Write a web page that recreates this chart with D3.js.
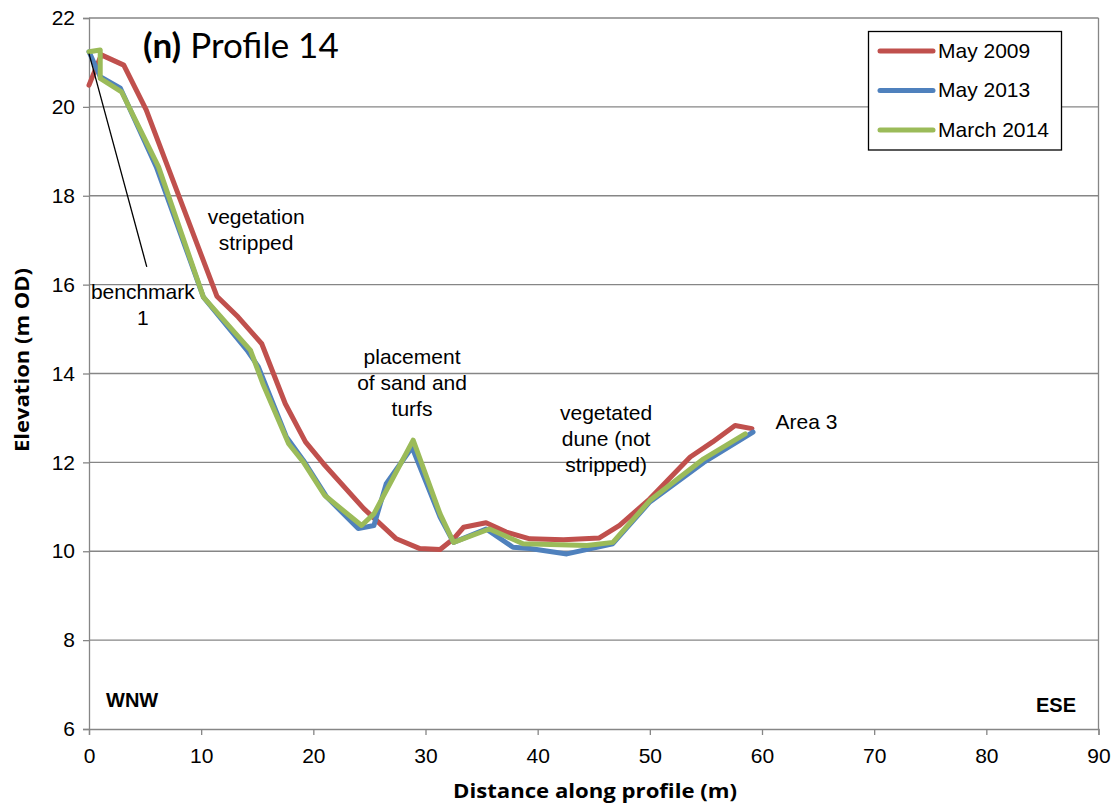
<!DOCTYPE html>
<html><head><meta charset="utf-8">
<script src="https://cdn.jsdelivr.net/npm/d3@7/dist/d3.min.js"></script>
<style>body{margin:0;background:#fff}svg{display:block}</style>
</head><body>
<svg id="c" width="1118" height="808"></svg>
<script>
const xTicks = [0,10,20,30,40,50,60,70,80,90];
const yTicks = [6,8,10,12,14,16,18,20,22];
const seriesNames = ["May 2009","May 2013","March 2014"];
const seriesColors = ["#C0504D","#4F81BD","#9BBB59"];

const may2009X = [0,1.1,3.1,5.1,11.4,13.3,15.4,17.5,19.3,20.9,24.5,27.4,29.5,31.3,32.5,33.4,35.4,37.2,39.3,42.3,45.5,47.3,50.0,53.6,55.6,57.6,59.1];
const may2009Y = [20.49,21.17,20.94,19.93,15.74,15.27,14.67,13.32,12.46,11.97,10.96,10.28,10.06,10.04,10.28,10.54,10.64,10.43,10.28,10.26,10.3,10.58,11.18,12.12,12.46,12.83,12.76];

const may2013X = [0,1.0,2.8,6.0,10.2,14.1,15.1,17.6,19.1,21.2,24.0,25.4,26.5,28.8,31.3,32.5,35.4,37.8,39.3,42.6,46.7,50.0,54.8,59.2];
const may2013Y = [21.24,20.68,20.42,18.65,15.72,14.52,14.15,12.57,12.05,11.22,10.51,10.58,11.52,12.34,10.77,10.2,10.5,10.09,10.06,9.94,10.17,11.11,12.0,12.68];

const march2014X = [0,1.0,1.0,2.9,6.2,10.2,14.4,15.5,17.8,19.1,21.0,24.3,25.4,28.9,31.3,32.5,35.7,38.7,44.4,46.7,50.0,54.8,58.5];
const march2014Y = [21.24,21.28,20.64,20.34,18.65,15.72,14.52,13.77,12.42,12.01,11.26,10.58,10.84,12.5,10.84,10.2,10.5,10.17,10.13,10.2,11.14,12.08,12.64];

const annotations = [
  {lines:["vegetation","stripped"], x:14.9, y:17.36},
  {lines:["benchmark","1"], x:4.8, y:15.68},
  {lines:["placement","of sand and","turfs"], x:28.8, y:14.21},
  {lines:["vegetated","dune (not","stripped)"], x:46.1, y:12.95}
];

const ARIAL = "Liberation Sans, Arial, sans-serif";
const svg = d3.select("#c");
const m = {l:89, r:1098.5, t:18, b:729};
const x = d3.scaleLinear().domain([0,90]).range([m.l,m.r]);
const y = d3.scaleLinear().domain([6,22]).range([m.b,m.t]);

// gridlines
svg.append("g").selectAll("line").data(yTicks.filter(d=>d>6)).join("line")
  .attr("x1",m.l).attr("x2",m.r).attr("y1",d=>y(d)).attr("y2",d=>y(d))
  .attr("stroke","#868686").attr("stroke-width",1.3);
// right border
svg.append("line").attr("x1",m.r).attr("x2",m.r).attr("y1",m.t).attr("y2",m.b)
  .attr("stroke","#868686").attr("stroke-width",1.3);

// axes
const yAxis = svg.append("g").attr("transform",`translate(${m.l},0)`)
  .call(d3.axisLeft(y).tickValues(yTicks).tickSize(6).tickPadding(8).tickFormat(d3.format("d")));
yAxis.selectAll("text").attr("font-family",ARIAL).attr("font-size",21).attr("fill","#000");
const xAxis = svg.append("g").attr("transform",`translate(0,${m.b})`)
  .call(d3.axisBottom(x).tickValues(xTicks).tickSize(6).tickPadding(13).tickFormat(d3.format("d")));
xAxis.selectAll("text").attr("font-family",ARIAL).attr("font-size",21).attr("fill","#000");
[yAxis,xAxis].forEach(a=>{a.selectAll("path,line").attr("stroke","#868686").attr("stroke-width",1.3);});

// series
const line = d3.line().x(d=>x(d[0])).y(d=>y(d[1]));
const data = [
  d3.zip(may2009X, may2009Y),
  d3.zip(may2013X, may2013Y),
  d3.zip(march2014X, march2014Y)
];
data.forEach((d,i)=>{
  svg.append("path").datum(d).attr("d",line).attr("fill","none")
    .attr("stroke",seriesColors[i]).attr("stroke-width",5).attr("stroke-linejoin","round").attr("stroke-linecap","round");
});

// benchmark pointer
svg.append("line").attr("x1",x(0)).attr("y1",y(21.2)).attr("x2",x(5.15)).attr("y2",y(16.4))
  .attr("stroke","#000").attr("stroke-width",1.3);

// annotations
annotations.forEach(a=>{
  const t = svg.append("text").attr("text-anchor","middle").attr("font-family",ARIAL).attr("font-size",21).attr("fill","#000");
  a.lines.forEach((l,i)=>t.append("tspan").attr("x",x(a.x)).attr("y",y(a.y)+i*26).text(l));
});
svg.append("text").attr("x",x(61.2)).attr("y",y(12.75)).attr("font-family",ARIAL).attr("font-size",21).text("Area 3");

svg.append("text").attr("x",106).attr("y",707).attr("font-family",ARIAL).attr("font-weight","bold").attr("font-size",20).text("WNW");
svg.append("text").attr("x",1076).attr("y",712).attr("text-anchor","end").attr("font-family",ARIAL).attr("font-weight","bold").attr("font-size",20).text("ESE");

// title
const ti = svg.append("text").attr("x",143).attr("y",58).attr("font-family","Lato, sans-serif").attr("font-size",35).attr("fill","#000");
ti.append("tspan").attr("font-weight","bold").text("(n)");
ti.append("tspan").text(" Profile 14");

// axis titles
svg.append("text").attr("x",595).attr("y",798).attr("text-anchor","middle").attr("font-family","Open Sans, sans-serif").attr("font-weight","bold").attr("font-size",20)
  .attr("textLength",284).attr("lengthAdjust","spacingAndGlyphs").text("Distance along profile (m)");
svg.append("text").attr("transform","translate(29,360) rotate(-90)").attr("text-anchor","middle").attr("font-family","Open Sans, sans-serif").attr("font-weight","bold").attr("font-size",20)
  .attr("textLength",184).attr("lengthAdjust","spacingAndGlyphs").text("Elevation (m OD)");

// legend
const lg = svg.append("g");
lg.append("rect").attr("x",868.5).attr("y",31.5).attr("width",193).attr("height",118.5).attr("fill","#fff").attr("stroke","#000").attr("stroke-width",1.3);
seriesNames.forEach((n,i)=>{
  const yy = 51 + i*39.5;
  lg.append("line").attr("x1",880).attr("x2",933).attr("y1",yy).attr("y2",yy).attr("stroke",seriesColors[i]).attr("stroke-width",5).attr("stroke-linecap","round");
  lg.append("text").attr("x",938).attr("y",yy+6.5).attr("font-family",ARIAL).attr("font-size",21).text(n);
});
</script>
</body></html>
